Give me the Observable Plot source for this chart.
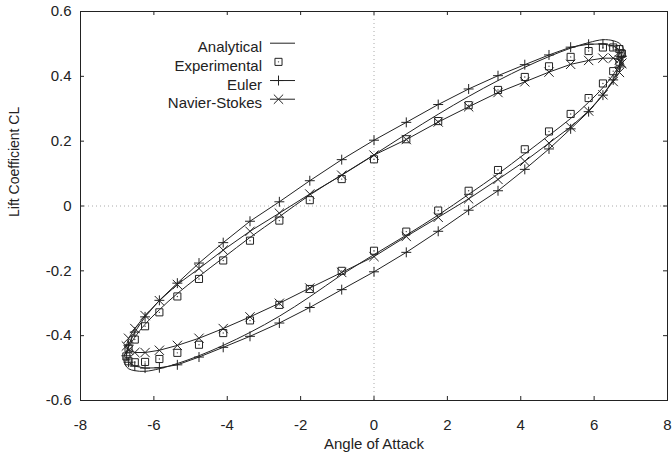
<!DOCTYPE html>
<html><head><meta charset="utf-8">
<script src="https://cdn.jsdelivr.net/npm/d3@7"></script>
<script src="https://cdn.jsdelivr.net/npm/@observablehq/plot@0.6"></script>
<style>
body{margin:0;background:#fff;}
#wrap{position:relative;width:672px;height:455px;}
</style></head><body><div id="wrap"></div>
<script>
// Marker angles of attack (shared by the sampled series)
const alphaUpper = [6.75, 6.69, 6.52, 6.24, 5.85, 5.36, 4.77, 4.11, 3.38, 2.58, 1.75, 0.88, 0, -0.88, -1.75, -2.58, -3.38, -4.11, -4.77, -5.36, -5.85, -6.24, -6.52, -6.69, -6.75];
const alphaLower = [-6.69, -6.52, -6.24, -5.85, -5.36, -4.77, -4.11, -3.38, -2.58, -1.75, -0.88, 0, 0.88, 1.75, 2.58, 3.38, 4.11, 4.77, 5.36, 5.85, 6.24, 6.52, 6.69, 6.75];

const eulerUpper = [0.462, 0.482, 0.494, 0.500, 0.499, 0.490, 0.466, 0.436, 0.402, 0.361, 0.313, 0.258, 0.203, 0.143, 0.078, 0.013, -0.047, -0.113, -0.176, -0.238, -0.291, -0.342, -0.389, -0.429, -0.462];
const eulerLower = [-0.482, -0.494, -0.500, -0.499, -0.490, -0.466, -0.436, -0.402, -0.361, -0.313, -0.258, -0.203, -0.143, -0.078, -0.013, 0.047, 0.113, 0.176, 0.238, 0.291, 0.342, 0.389, 0.429, 0.462];

const expUpper = [0.470, 0.484, 0.489, 0.489, 0.478, 0.460, 0.431, 0.398, 0.358, 0.311, 0.262, 0.206, 0.144, 0.083, 0.018, -0.045, -0.107, -0.168, -0.225, -0.279, -0.328, -0.371, -0.412, -0.440, -0.464];
const expLower = [-0.479, -0.482, -0.481, -0.472, -0.453, -0.428, -0.392, -0.353, -0.305, -0.256, -0.200, -0.138, -0.079, -0.014, 0.047, 0.111, 0.175, 0.230, 0.284, 0.333, 0.378, 0.416, 0.445, 0.470];

const nsUpper = [0.440, 0.451, 0.456, 0.456, 0.449, 0.437, 0.413, 0.383, 0.350, 0.306, 0.259, 0.205, 0.157, 0.095, 0.037, -0.022, -0.078, -0.136, -0.193, -0.242, -0.292, -0.338, -0.378, -0.408, -0.432];
const nsLower = [-0.445, -0.452, -0.452, -0.445, -0.430, -0.408, -0.378, -0.342, -0.300, -0.253, -0.205, -0.156, -0.094, -0.035, 0.022, 0.082, 0.138, 0.194, 0.244, 0.293, 0.343, 0.384, 0.412, 0.440];

// Analytical curve (continuous line)
const anaAlphaUpper = [6.82, 6.78, 6.69, 6.52, 6.24, 5.85, 5.36, 4.77, 4.11, 3.38, 2.58, 1.75, 0.88, 0, -0.88, -1.75, -2.58, -3.38, -4.11, -4.77, -5.36, -5.85, -6.24, -6.52, -6.69, -6.78, -6.82];
const anaUpper = [0.470, 0.490, 0.502, 0.510, 0.513, 0.504, 0.487, 0.461, 0.428, 0.387, 0.338, 0.283, 0.222, 0.158, 0.096, 0.034, -0.033, -0.097, -0.160, -0.217, -0.270, -0.320, -0.365, -0.405, -0.435, -0.455, -0.470];
const anaAlphaLower = [-6.78, -6.69, -6.52, -6.24, -5.85, -5.36, -4.77, -4.11, -3.38, -2.58, -1.75, -0.88, 0, 0.88, 1.75, 2.58, 3.38, 4.11, 4.77, 5.36, 5.85, 6.24, 6.52, 6.69, 6.78, 6.82];
const anaLower = [-0.490, -0.502, -0.508, -0.510, -0.502, -0.486, -0.462, -0.430, -0.390, -0.340, -0.280, -0.212, -0.150, -0.090, -0.028, 0.036, 0.099, 0.161, 0.218, 0.270, 0.320, 0.365, 0.405, 0.435, 0.455, 0.470];

const xTicks = [-8, -6, -4, -2, 0, 2, 4, 6, 8];
const yTicks = [-0.6, -0.4, -0.2, 0, 0.2, 0.4, 0.6];
const seriesNames = ["Analytical", "Experimental", "Euler", "Navier-Stokes"];
const xTitle = "Angle of Attack";
const yTitle = "Lift Coefficient CL";

const toRows = (as, cs) => as.map((a, i) => ({alpha: a, cl: cs[i]}));
const alphaAll = alphaUpper.concat(alphaLower);
const euler = toRows(alphaAll, eulerUpper.concat(eulerLower));
const experimental = toRows(alphaAll, expUpper.concat(expLower));
const navier = toRows(alphaAll, nsUpper.concat(nsLower));
const analytical = toRows(anaAlphaUpper.concat(anaAlphaLower), anaUpper.concat(anaLower));

const ink = "#222";
const font = "'Liberation Sans', Arial, Helvetica, sans-serif";
const W = 672, H = 455, mL = 80, mR = 5, mT = 11, mB = 55;
const pw = W - mL - mR, ph = H - mT - mB, tl = 4;

const chart = Plot.plot({
  width: W, height: H,
  marginLeft: mL, marginRight: mR, marginTop: mT, marginBottom: mB,
  style: {background: "#fff", color: ink, fontFamily: font, fontSize: "15px"},
  x: {domain: [-8, 8]},
  y: {domain: [-0.6, 0.6]},
  marks: [
    Plot.ruleX([0], {stroke: "#aaa", strokeDasharray: "1,3"}),
    Plot.ruleY([0], {stroke: "#aaa", strokeDasharray: "1,3"}),
    Plot.frame({stroke: ink}),
    Plot.tickX(xTicks, {x: d => d, insetTop: ph - tl, stroke: ink}),
    Plot.tickX(xTicks, {x: d => d, insetBottom: ph - tl, stroke: ink}),
    Plot.tickY(yTicks, {y: d => d, insetLeft: pw - tl, stroke: ink}),
    Plot.tickY(yTicks, {y: d => d, insetRight: pw - tl, stroke: ink}),
    Plot.axisX(xTicks, {tickSize: 0, tickPadding: 19, tickFormat: d => String(d), label: xTitle, labelAnchor: "center", labelArrow: "none", labelOffset: 48, fontSize: "15px"}),
    Plot.axisY(yTicks, {tickSize: 0, tickPadding: 9, tickFormat: d => String(d), label: null, fontSize: "15px"}),
    Plot.text([yTitle], {frameAnchor: "left", text: d => d, rotate: -90, dx: -65.5, dy: 11, fontSize: 14, fill: ink}),
    Plot.line(analytical, {x: "alpha", y: "cl", curve: "catmull-rom", stroke: ink, strokeWidth: 1}),
    Plot.line(euler, {x: "alpha", y: "cl", stroke: ink, strokeWidth: 1}),
    Plot.line(navier, {x: "alpha", y: "cl", stroke: ink, strokeWidth: 1}),
    Plot.dot(euler, {x: "alpha", y: "cl", symbol: "plus", r: 3.3, stroke: ink, strokeWidth: 1}),
    Plot.dot(navier, {x: "alpha", y: "cl", symbol: "times", r: 4.3, stroke: ink, strokeWidth: 1}),
    Plot.dot(experimental, {x: "alpha", y: "cl", symbol: "square", r: 4, stroke: ink, strokeWidth: 1, fill: "none"}),
    Plot.dot(experimental, {x: "alpha", y: "cl", r: 0.7, fill: "#444", stroke: null})
  ]
});

const wrap = document.getElementById("wrap");
wrap.appendChild(chart);

// Legend inside the plot frame (top-left)
const leg = d3.select(wrap).append("svg")
  .attr("width", W).attr("height", H)
  .style("position", "absolute").style("left", "0px").style("top", "0px")
  .style("pointer-events", "none");
const rowY0 = 42.7, rowStep = 18.67, textRight = 262, lineX1 = 270, lineX2 = 295, markX = 278.5;
seriesNames.forEach((name, i) => {
  const y = rowY0 + i * rowStep;
  leg.append("text").attr("x", textRight).attr("y", y + 9.6)
    .attr("text-anchor", "end").attr("font-family", font).attr("font-size", 15)
    .attr("fill", ink).text(name);
  if (name !== "Experimental") {
    leg.append("line").attr("x1", lineX1).attr("x2", lineX2).attr("y1", y + 0.5).attr("y2", y + 0.5)
      .attr("stroke", ink).attr("stroke-width", 1);
  }
  let sym = null, r = 0;
  if (name === "Experimental") { sym = d3.symbolSquare; r = 4; }
  if (name === "Euler") { sym = d3.symbolPlus; r = 3.3; }
  if (name === "Navier-Stokes") { sym = d3.symbolTimes; r = 4.3; }
  if (sym) {
    leg.append("path").attr("transform", `translate(${markX},${y + 0.5})`)
      .attr("d", d3.symbol(sym, r * r * Math.PI)())
      .attr("fill", "none").attr("stroke", ink).attr("stroke-width", 1);
    if (name === "Experimental") {
      leg.append("circle").attr("cx", markX).attr("cy", y + 0.5).attr("r", 0.7).attr("fill", "#444");
    }
  }
});
</script>
</body></html>
